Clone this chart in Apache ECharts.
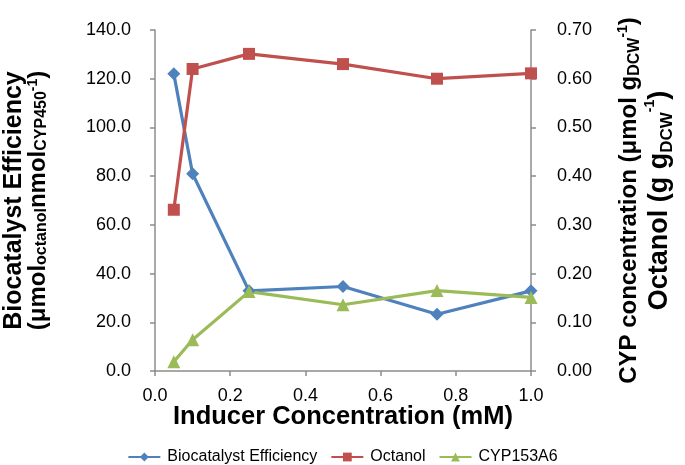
<!DOCTYPE html>
<html>
<head>
<meta charset="utf-8">
<script src="https://cdn.jsdelivr.net/npm/echarts@6/dist/echarts.min.js"></script>
<style>
html,body{margin:0;padding:0;background:#fff;}
#chart{width:685px;height:465px;}
</style>
</head>
<body>
<div id="chart"></div>
<script>
const inducer = [0.05, 0.1, 0.25, 0.5, 0.75, 1.0];
const efficiency = [122.0, 81.0, 32.9, 34.7, 23.3, 32.9];
const octanol = [0.331, 0.620, 0.651, 0.630, 0.600, 0.611];
const cyp153a6 = [0.019, 0.064, 0.163, 0.136, 0.165, 0.151];
const seriesNames = ['Biocatalyst Efficiency', 'Octanol', 'CYP153A6'];

const FONT = "'Liberation Sans', Arial, Helvetica, sans-serif";
const pair = (xs, ys) => xs.map((x, i) => [x, ys[i]]);

const leftRich = {
  a: {fontSize: 25, fontWeight: 'bold', fontFamily: FONT, color: '#000', lineHeight: 24},
  b: {fontSize: 24, fontWeight: 'bold', fontFamily: FONT, color: '#000', lineHeight: 24},
  s: {fontSize: 16, fontWeight: 'bold', fontFamily: FONT, color: '#000', verticalAlign: 'bottom', lineHeight: 8},
  p: {fontSize: 14, fontWeight: 'bold', fontFamily: FONT, color: '#000', verticalAlign: 'top', lineHeight: 10}
};
const rightRich = {
  a: {fontSize: 24, fontWeight: 'bold', fontFamily: FONT, color: '#000', lineHeight: 27},
  b: {fontSize: 27, fontWeight: 'bold', fontFamily: FONT, color: '#000', lineHeight: 33},
  s: {fontSize: 16, fontWeight: 'bold', fontFamily: FONT, color: '#000', verticalAlign: 'bottom', lineHeight: 8},
  p: {fontSize: 14, fontWeight: 'bold', fontFamily: FONT, color: '#000', verticalAlign: 'top', lineHeight: 11},
  s2: {fontSize: 17, fontWeight: 'bold', fontFamily: FONT, color: '#000', verticalAlign: 'bottom', lineHeight: 9},
  p2: {fontSize: 14, fontWeight: 'bold', fontFamily: FONT, color: '#000', verticalAlign: 'top', lineHeight: 12}
};

const chart = echarts.init(document.getElementById('chart'), null, {renderer: 'canvas'});
chart.setOption({
  animation: false,
  backgroundColor: '#fff',
  textStyle: {fontFamily: FONT},
  grid: {left: 155, right: 154, top: 30, bottom: 94, containLabel: false, outerBoundsMode: 'none'},
  legend: {
    data: seriesNames,
    top: 444,
    left: 'center',
    itemWidth: 32,
    itemHeight: 11,
    itemGap: 13,
    textStyle: {fontSize: 16, color: '#000', fontFamily: FONT, padding: [0, 0, 0, 2]}
  },
  xAxis: {
    type: 'value', min: 0, max: 1, interval: 0.2,
    name: 'Inducer Concentration (mM)',
    nameLocation: 'middle', nameGap: 33, nameMoveOverlap: false,
    nameTextStyle: {fontSize: 25.5, fontWeight: 'bold', color: '#000', fontFamily: FONT},
    axisLine: {lineStyle: {color: '#8c8c8c', width: 1.5}},
    axisTick: {show: true, length: 5, lineStyle: {color: '#8c8c8c', width: 1.5}},
    axisLabel: {fontSize: 18, color: '#000', margin: 16, formatter: v => v.toFixed(1)},
    splitLine: {show: false}
  },
  yAxis: [
    {
      type: 'value', min: 0, max: 140, interval: 20, position: 'left',
      name: '{a|Biocatalyst Efficiency}\n{b|(μmol}{s|octanol}{b|nmol}{s|CYP450}{p|-1}{b|)}',
      nameLocation: 'middle', nameRotate: 90, nameGap: 105, nameMoveOverlap: false,
      nameTextStyle: {rich: leftRich, align: 'center'},
      axisLine: {show: true, lineStyle: {color: '#8c8c8c', width: 1.5}},
      axisTick: {show: true, length: 5, lineStyle: {color: '#8c8c8c', width: 1.5}},
      axisLabel: {fontSize: 18, color: '#000', margin: 24, formatter: v => v.toFixed(1)},
      splitLine: {show: false}
    },
    {
      type: 'value', min: 0, max: 0.7, interval: 0.1, position: 'right',
      name: '{a|CYP concentration (μmol g}{s|DCW}{p|-1}{a|)}\n{b|Octanol (g g}{s2|DCW}{p2|-1}{b|)}',
      nameLocation: 'middle', nameRotate: 90, nameGap: 85, nameMoveOverlap: false,
      nameTextStyle: {rich: rightRich, align: 'center'},
      axisLine: {show: true, lineStyle: {color: '#8c8c8c', width: 1.5}},
      axisTick: {show: true, length: 5, lineStyle: {color: '#8c8c8c', width: 1.5}},
      axisLabel: {fontSize: 18, color: '#000', margin: 26, formatter: v => v.toFixed(2)},
      splitLine: {show: false}
    }
  ],
  series: [
    {
      name: seriesNames[0], type: 'line', yAxisIndex: 0,
      data: pair(inducer, efficiency),
      symbol: 'diamond', symbolSize: 13,
      lineStyle: {color: '#4F81BD', width: 3.2},
      itemStyle: {color: '#4F81BD'}
    },
    {
      name: seriesNames[1], type: 'line', yAxisIndex: 1,
      data: pair(inducer, octanol),
      symbol: 'rect', symbolSize: 12,
      lineStyle: {color: '#C0504D', width: 3.2},
      itemStyle: {color: '#C0504D'}
    },
    {
      name: seriesNames[2], type: 'line', yAxisIndex: 1,
      data: pair(inducer, cyp153a6),
      symbol: 'triangle', symbolSize: 13,
      lineStyle: {color: '#9BBB59', width: 3.2},
      itemStyle: {color: '#9BBB59'}
    }
  ]
});
</script>
</body>
</html>
